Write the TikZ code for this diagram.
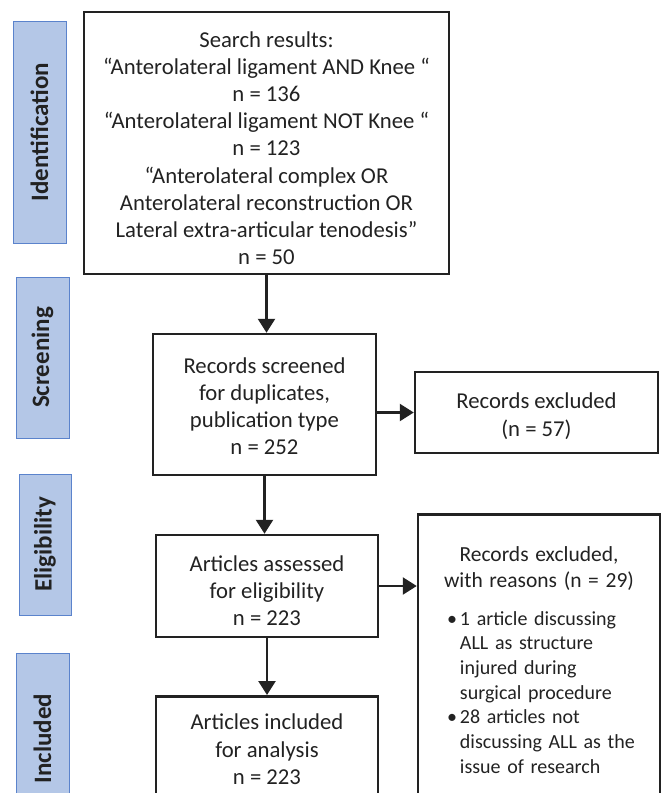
\documentclass[tikz,border=0pt]{standalone}
\usepackage{fontspec}
\setmainfont{Carlito}
\usetikzlibrary{arrows.meta,positioning}

\definecolor{stagefill}{HTML}{B4C7E7}
\definecolor{stageline}{HTML}{5B83CC}
\definecolor{inkgray}{HTML}{222222}

\tikzset{
	flowbox/.style={draw=inkgray, line width=2.5pt, align=center, inner sep=0pt,
		text=inkgray, font=\fontsize{22.7}{27.2}\selectfont},
	stagebox/.style={draw=stageline, fill=stagefill, line width=1pt, rotate=90,
		inner sep=0pt, text=inkgray, font=\fontsize{25}{28}\selectfont\bfseries},
	flowarrow/.style={-{Triangle[width=17pt,length=14pt]}, line width=2.5pt, draw=inkgray}
}

\begin{document}
\begin{tikzpicture}[x=1pt,y=-1pt]
	\useasboundingbox (0,0) rectangle (664,793);
	\clip (0,0) rectangle (664,793);
	
	% stage labels
	\node[stagebox, minimum width=222, minimum height=53] (ident) at (39.5,132) {Identification};
	\node[stagebox, minimum width=161, minimum height=53] (screen) at (42.5,357.5) {Screening};
	\node[stagebox, minimum width=141, minimum height=52] (elig) at (45,544.5) {Eligibility};
	\node[stagebox, minimum width=170, minimum height=53, anchor=east] (incl) at (42.5,653) {Included};
	
	% main column
	\node[flowbox, minimum width=365, minimum height=262] (search) at (266.5,143) {%
		\rule{0pt}{26pt}Search results:\\
		“Anterolateral ligament AND Knee “\\
		n = 136\\
		“Anterolateral ligament NOT Knee “\\
		n = 123\\
		“Anterolateral complex OR\\
		Anterolateral reconstruction OR\\
		Lateral extra-articular tenodesis”\\
		n = 50};
	\node[flowbox, minimum width=223, minimum height=141] (screened) at (264.5,404.5) {%
		\rule{0pt}{19pt}Records screened\\ for duplicates,\\ publication type\\ n = 252};
	\node[flowbox, minimum width=222, minimum height=102] (assessed) at (267,586) {%
		\rule{0pt}{25pt}Articles assessed\\ for eligibility\\ n = 223};
	\node[flowbox, minimum width=222, minimum height=106, anchor=north] (included) at (267,695) {%
		Articles included\\ for analysis\\ n = 223};
	
	% exclusions
	\node[flowbox, minimum width=243, minimum height=81] (excl) at (536.5,412.5) {%
		\rule{0pt}{23pt}Records excluded\\ (n = 57)};
	\node[flowbox, minimum width=242, minimum height=299, anchor=north, text width=200, align=left,
		font=\fontsize{20}{24.7}\selectfont] (reasons) at (539,513) {%
		{\centering\fontsize{21.5}{25.5}\selectfont Records excluded,\\ with reasons (n = 29)\par}\vspace{13pt}
		\noindent\hspace*{8pt}\begin{tabular}[t]{@{}l@{\hspace{3pt}}l@{}}
			•&1 article discussing\\
			&ALL as structure\\
			&injured during\\
			&surgical procedure\\
			•&28 articles not\\
			&discussing ALL as the\\
			&issue of research
		\end{tabular}};
	
	% arrows
	\draw[flowarrow] (search.south) -- (search.south |- screened.north);
	\draw[flowarrow] (screened.south) -- (screened.south |- assessed.north);
	\draw[flowarrow] (assessed.south) -- (assessed.south |- included.north);
	\draw[flowarrow] (screened.east |- excl.west) -- (excl.west);
	\draw[flowarrow] (assessed.east) -- (assessed.east -| reasons.west);
\end{tikzpicture}
\end{document}
